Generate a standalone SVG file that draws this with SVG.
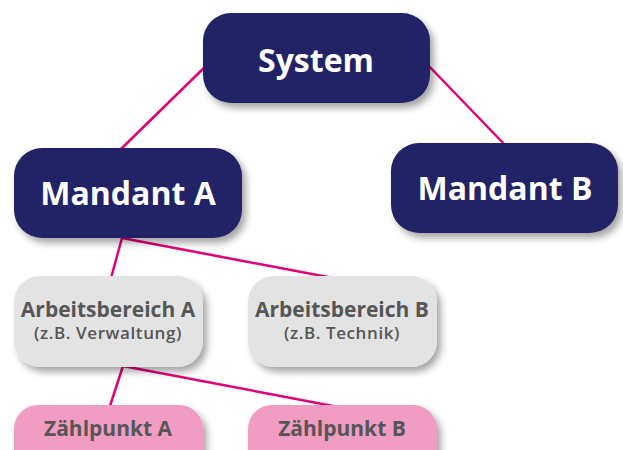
<svg xmlns="http://www.w3.org/2000/svg" width="623" height="450" viewBox="0 0 623 450">
<defs>
<filter id="sh" x="-20%" y="-20%" width="150%" height="160%">
<feDropShadow dx="4" dy="5" stdDeviation="3.5" flood-color="#000" flood-opacity="0.35"/>
</filter>
<style>
.dark{fill:#222266;filter:url(#sh)}
.grey{fill:#e3e3e3;filter:url(#sh)}
.pink{fill:#f09cc3;filter:url(#sh)}
.tw{fill:#fff;font-family:"Open Sans","Liberation Sans",sans-serif;font-weight:700;font-size:32px;text-anchor:middle}
.tg{fill:#565656;font-family:"Open Sans","Liberation Sans",sans-serif;font-weight:700;font-size:21px;text-anchor:middle}
.ts{fill:#565656;font-family:"Open Sans","Liberation Sans",sans-serif;font-weight:600;font-size:17px;letter-spacing:0.6px;text-anchor:middle}
.ln{stroke:#e2007a;stroke-width:2.5;fill:none}
</style>
</defs>
<g id="connectors">
<line class="ln" x1="210" y1="62" x2="120" y2="150"/>
<line class="ln" x1="425" y1="62" x2="505" y2="145"/>
<line class="ln" x1="122" y1="238" x2="111" y2="278"/>
<line class="ln" x1="122" y1="238" x2="333" y2="278"/>
<line class="ln" x1="123" y1="366" x2="110" y2="406"/>
<line class="ln" x1="123" y1="366" x2="333" y2="406"/>
</g>
<g id="system">
<rect class="dark" x="203" y="13" width="227" height="90" rx="28"/>
<text class="tw" x="316" y="72">System</text>
</g>
<g id="mandant-a">
<rect class="dark" x="14" y="148" width="228" height="90" rx="28"/>
<text class="tw" x="128" y="205">Mandant A</text>
</g>
<g id="mandant-b">
<rect class="dark" x="391" y="143" width="227" height="90" rx="28"/>
<text class="tw" x="505" y="200">Mandant B</text>
</g>
<g id="arbeitsbereich-a">
<rect class="grey" x="14" y="276" width="189" height="91" rx="26"/>
<text class="tg" x="108" y="317">Arbeitsbereich A</text>
<text class="ts" x="108" y="339">(z.B. Verwaltung)</text>
</g>
<g id="arbeitsbereich-b">
<rect class="grey" x="248" y="276" width="189" height="91" rx="26"/>
<text class="tg" x="342" y="317">Arbeitsbereich B</text>
<text class="ts" x="342" y="339">(z.B. Technik)</text>
</g>
<g id="zaehlpunkt-a">
<rect class="pink" x="14" y="405" width="189" height="70" rx="24"/>
<text class="tg" x="108" y="436">Zählpunkt A</text>
</g>
<g id="zaehlpunkt-b">
<rect class="pink" x="248" y="405" width="189" height="70" rx="24"/>
<text class="tg" x="342" y="436">Zählpunkt B</text>
</g>
</svg>
